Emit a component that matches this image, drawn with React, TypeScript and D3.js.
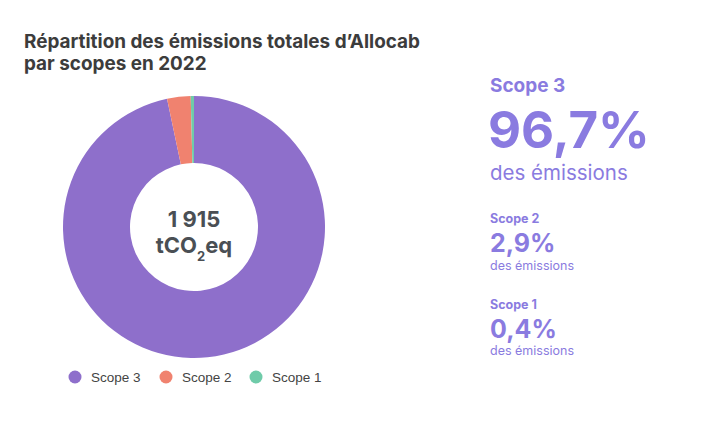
import React from "react";
import * as d3 from "d3";

const categories = ["Scope 3", "Scope 2", "Scope 1"];
const values = [96.7, 2.9, 0.4];
const percentLabels = ["96,7%", "2,9%", "0,4%"];
const colors = ["#8E6FCB", "#F0826F", "#6FCBA9"];
const totalLabel = "1 915";

export default function App() {
  const W = 720, H = 426;
  const cx = 194, cy = 227, outerR = 131, innerR = 64;
  const pie = d3.pie<number>().sort(null).value((d) => d);
  const arcs = pie(values);
  const arc = d3.arc<d3.PieArcDatum<number>>().innerRadius(innerR).outerRadius(outerR);
  const accent = "#8A7BE0";
  const inter = "Inter, 'Noto Sans', sans-serif";
  const legendX = [75, 166, 256];
  return (
    <svg width={W} height={H} style={{ position: "absolute", left: 0, top: 0 }}>
      <rect width={W} height={H} fill="#fff" />
      <text x={24} y={48} fontFamily={inter} fontWeight={700} fontSize={18.9} fill="#3c3c3c">
        Répartition des émissions totales d’Allocab
      </text>
      <text x={24} y={70} fontFamily={inter} fontWeight={700} fontSize={18.9} fill="#3c3c3c">
        par scopes en 2022
      </text>
      <g transform={`translate(${cx},${cy})`}>
        {arcs.map((a, i) => (
          <path key={i} d={arc(a) || ""} fill={colors[i]} />
        ))}
        <text x={0} y={0} textAnchor="middle" fontFamily={inter} fontWeight={700} fontSize={22} fill="#4a4f54">
          {totalLabel}
        </text>
        <text x={0} y={26} textAnchor="middle" fontFamily={inter} fontWeight={700} fontSize={22} fill="#4a4f54">
          tCO<tspan fontSize={13} dy={8}>2</tspan><tspan dy={-8}>eq</tspan>
        </text>
      </g>
      {categories.map((c, i) => (
        <g key={c}>
          <circle cx={legendX[i]} cy={377} r={6.5} fill={colors[i]} />
          <text x={legendX[i] + 16} y={382} fontFamily="'Liberation Sans', Arial, sans-serif" fontSize={13.5} fill="#444">
            {c}
          </text>
        </g>
      ))}
      <text x={490} y={92} fontFamily={inter} fontWeight={700} fontSize={19} fill={accent}>{categories[0]}</text>
      <text x={488} y={148} fontFamily={inter} fontWeight={700} fontSize={51} fill={accent}>{percentLabels[0]}</text>
      <text x={490} y={180} fontFamily={inter} fontSize={20.5} fill={accent}>des émissions</text>

      <text x={490} y={223} fontFamily={inter} fontWeight={700} fontSize={12.5} fill={accent}>{categories[1]}</text>
      <text x={490} y={252} fontFamily={inter} fontWeight={700} fontSize={25} fill={accent}>{percentLabels[1]}</text>
      <text x={490} y={270} fontFamily={inter} fontSize={12.5} fill={accent}>des émissions</text>

      <text x={490} y={309} fontFamily={inter} fontWeight={700} fontSize={12.5} fill={accent}>{categories[2]}</text>
      <text x={490} y={338} fontFamily={inter} fontWeight={700} fontSize={25} fill={accent}>{percentLabels[2]}</text>
      <text x={490} y={355} fontFamily={inter} fontSize={12.5} fill={accent}>des émissions</text>
    </svg>
  );
}
